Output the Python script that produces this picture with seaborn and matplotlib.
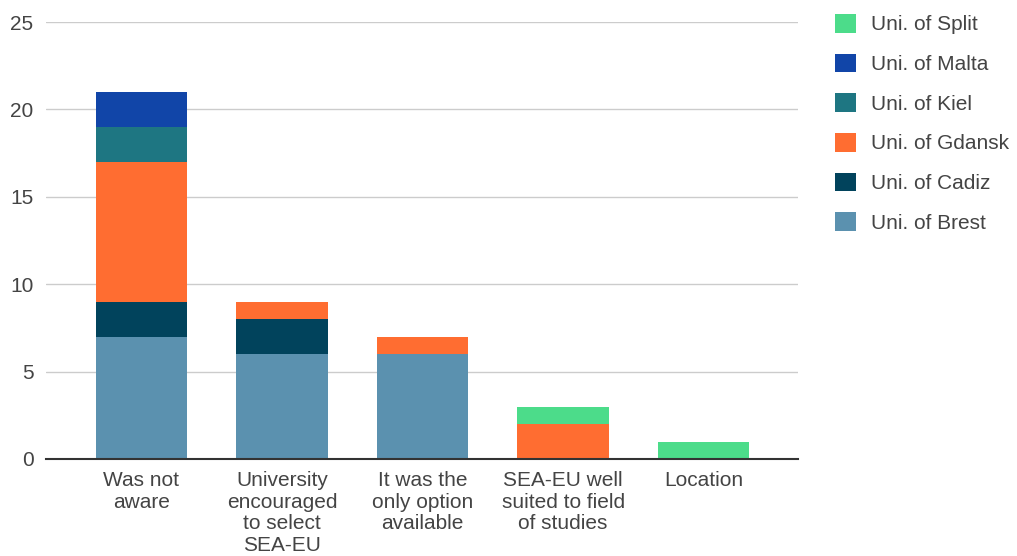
import matplotlib
matplotlib.use("Agg")
import matplotlib.pyplot as plt
from matplotlib.patches import Patch
import numpy as np
import pandas as pd
import seaborn as sns

categories = ["Was not\naware", "University\nencouraged\nto select\nSEA-EU",
              "It was the\nonly option\navailable", "SEA-EU well\nsuited to field\nof studies",
              "Location"]
series_names = ["Uni. of Brest", "Uni. of Cadiz", "Uni. of Gdansk",
                "Uni. of Kiel", "Uni. of Malta", "Uni. of Split"]
brest = [7, 6, 6, 0, 0]
cadiz = [2, 2, 0, 0, 0]
gdansk = [8, 1, 1, 2, 0]
kiel = [2, 0, 0, 0, 0]
malta = [2, 0, 0, 0, 0]
split = [0, 0, 0, 1, 1]
y_ticks = [0, 5, 10, 15, 20, 25]

colors = {
    "Uni. of Brest": "#5b91af",
    "Uni. of Cadiz": "#01435c",
    "Uni. of Gdansk": "#ff6d31",
    "Uni. of Kiel": "#1e7682",
    "Uni. of Malta": "#1145a8",
    "Uni. of Split": "#4cdc8a",
}

sns.set_theme(style="white")
plt.rcParams["font.family"] = ["Liberation Sans", "DejaVu Sans"]

FS = 15

series_vals = [brest, cadiz, gdansk, kiel, malta, split]
cum = np.cumsum(np.array(series_vals, dtype=float), axis=0)

W, H = 1017, 556
fig = plt.figure(figsize=(W / 100, H / 100), dpi=100)
ax = fig.add_axes([46 / W, (H - 459) / H, (798 - 46) / W, (459 - 22) / H])

# draw cumulative totals from top series down so each lower layer overlays
for i in range(len(series_names) - 1, -1, -1):
    df = pd.DataFrame({"cat": categories, "val": cum[i]})
    sns.barplot(data=df, x="cat", y="val", order=categories,
                color=colors[series_names[i]], saturation=1, width=0.65,
                edgecolor="none", linewidth=0, ax=ax, zorder=2)

ax.set_xlim(-0.5 - 25 / 140.6, 4.5 + 24 / 140.6)
ax.set_ylim(0, 25)
ax.set_yticks(y_ticks)
ax.set_yticklabels([str(t) for t in y_ticks])
ax.set_xlabel("")
ax.set_ylabel("")
ax.grid(axis="y", color="#cccccc", linewidth=1, zorder=0)
ax.set_axisbelow(True)
for s in ["top", "right", "left"]:
    ax.spines[s].set_visible(False)
ax.spines["bottom"].set_color("#333333")
ax.spines["bottom"].set_linewidth(1.5)
ax.spines["bottom"].set_zorder(3)
ax.tick_params(axis="y", length=0, pad=9, labelsize=FS, labelcolor="#444444")
ax.tick_params(axis="x", length=0, pad=9, labelsize=FS, labelcolor="#444444")
for lbl in ax.get_xticklabels():
    lbl.set_linespacing(1.16)
    lbl.set_verticalalignment("top")

handles = [Patch(facecolor=colors[n], edgecolor="none", label=n)
           for n in series_names[::-1]]
fig.legend(handles=handles, loc="upper left",
           bbox_to_anchor=(835 / W, 1 - 14 / H), frameon=False,
           borderpad=0, borderaxespad=0, handlelength=1.0, handleheight=1.0,
           handletextpad=0.72, labelspacing=0.92, fontsize=FS,
           labelcolor="#444444")

fig.savefig("out.png", dpi=100)
